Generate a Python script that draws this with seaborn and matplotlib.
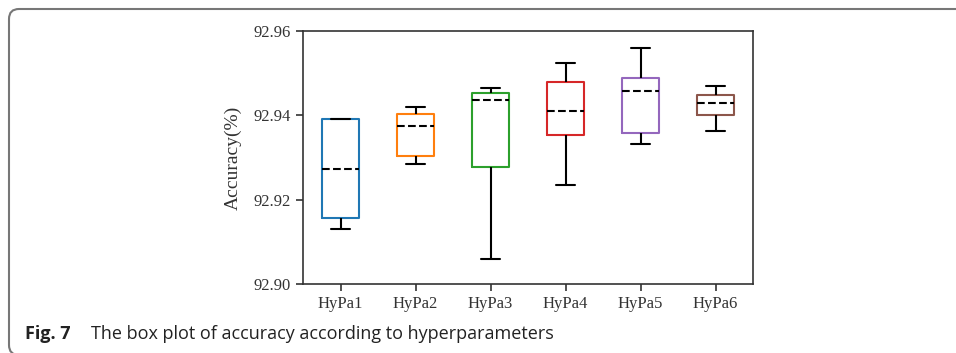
import pandas as pd
import matplotlib.pyplot as plt
import seaborn as sns
from matplotlib.patches import FancyBboxPatch
from matplotlib.transforms import IdentityTransform

# Values: min, Q1, median, Q3, max for each setting
groups = ["HyPa1", "HyPa2", "HyPa3", "HyPa4", "HyPa5", "HyPa6"]
hypa1 = [92.9130, 92.9157, 92.9273, 92.9391, 92.9391]
hypa2 = [92.9285, 92.9304, 92.9375, 92.9402, 92.9420]
hypa3 = [92.9059, 92.9278, 92.9436, 92.9452, 92.9466]
hypa4 = [92.9235, 92.9353, 92.9411, 92.9478, 92.9525]
hypa5 = [92.9332, 92.9357, 92.9458, 92.9488, 92.9559]
hypa6 = [92.9364, 92.9400, 92.9429, 92.9448, 92.9470]
yticks = [92.90, 92.92, 92.94, 92.96]

rows = []
for g, vals in zip(groups, [hypa1, hypa2, hypa3, hypa4, hypa5, hypa6]):
    for v in vals:
        rows.append({"group": g, "acc": v})
df = pd.DataFrame(rows)

sns.set_style("ticks")
plt.rcParams["font.family"] = ["Liberation Serif", "DejaVu Serif"]

fig = plt.figure(figsize=(9.56, 3.53), dpi=100)
W, H = 956, 353
ax = fig.add_axes([303 / W, 1 - 284 / H, 450 / W, 253 / H])

colors = ["#1f77b4", "#ff7f0e", "#2ca02c", "#d62728", "#9467bd", "#8c564b"]
sns.boxplot(data=df, x="group", y="acc", hue="group", palette=colors, fill=False,
            width=0.5, whis=(0, 100), linewidth=1.5, legend=False, ax=ax,
            whiskerprops=dict(color="black", linewidth=1.5),
            capprops=dict(color="black", linewidth=1.5),
            medianprops=dict(color="black", linestyle="--", linewidth=1.5))

ax.set_ylim(92.90, 92.96)
ax.set_xlim(-0.5, 5.5)
ax.set_yticks(yticks)
ax.set_yticklabels(["%.2f" % t for t in yticks])
ax.set_xlabel("")
ax.set_ylabel("Accuracy(%)", fontsize=14, color="#333333", labelpad=9)
ax.tick_params(labelsize=12, length=5, width=1.2, colors="#333333")
for s in ax.spines.values():
    s.set_visible(True)
    s.set_linewidth(1.2)
    s.set_color("#333333")

# rounded outer frame (runs off the right and bottom edges) and caption
frame = FancyBboxPatch((9, -2), 1100, 346, boxstyle="round,pad=0,rounding_size=10",
                       transform=IdentityTransform(), fill=False, edgecolor="#777777",
                       linewidth=1.5)
fig.patches.append(frame)
cap_font = ["Open Sans", "DejaVu Sans"]
fig.text(25 / W, 14 / H, "Fig. 7", fontsize=13, fontweight="bold", family=cap_font,
         va="baseline", color="#222222")
fig.text(91 / W, 14 / H, "The box plot of accuracy according to hyperparameters",
         fontsize=13, family=cap_font, va="baseline", color="#222222")

fig.savefig("out.png", dpi=100)
